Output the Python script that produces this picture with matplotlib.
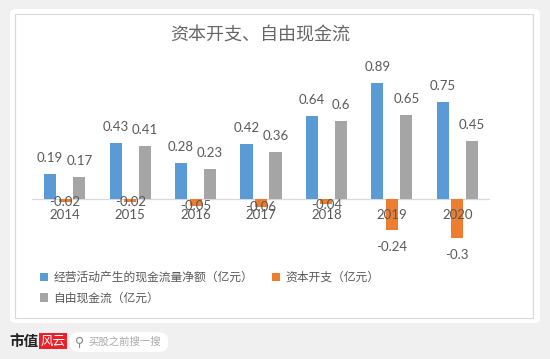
import numpy as np
import matplotlib.pyplot as plt
from matplotlib.patches import FancyBboxPatch, Rectangle

plt.rcParams['font.family'] = ['Lato', 'Noto Sans CJK SC', 'DejaVu Sans']

years = ['2014', '2015', '2016', '2017', '2018', '2019', '2020']
cash_flow = [0.19, 0.43, 0.28, 0.42, 0.64, 0.89, 0.75]
capex = [-0.02, -0.02, -0.05, -0.06, -0.04, -0.24, -0.3]
free_cf = [0.17, 0.41, 0.23, 0.36, 0.6, 0.65, 0.45]
series_names = ['经营活动产生的现金流量净额（亿元）', '资本开支（亿元）', '自由现金流（亿元）']
title = '资本开支、自由现金流'

BLUE = '#5b9bd5'
ORANGE = '#ed7d31'
GRAY = '#a5a5a5'
TXT = '#595959'

fig = plt.figure(figsize=(5.5, 3.59), dpi=100)
fig.patch.set_facecolor('#f0f0f0')

# white card + inner chart border
W, H = 550.0, 359.0
card = FancyBboxPatch((10 / W, 36 / H), 530 / W, 314 / H,
                      boxstyle='round,pad=0,rounding_size=0.012',
                      transform=fig.transFigure, fc='white', ec='none', zorder=-10)
fig.add_artist(card)
fig.add_artist(Rectangle((15 / W, 41 / H), 518 / W, 304 / H,
                         transform=fig.transFigure, fc='none',
                         ec='#d9d9d9', lw=0.8, zorder=-5))

ax = fig.add_axes([32 / W, (359 - 244.5) / H, 458 / W, 175.5 / H])
ax.set_facecolor('none')
x = np.arange(len(years))
off = 0.222
bw = 0.185
b1 = ax.bar(x - off, cash_flow, bw, color=BLUE)
b2 = ax.bar(x, capex, bw, color=ORANGE)
b3 = ax.bar(x + off, free_cf, bw, color=GRAY)
ax.set_xlim(-0.5, len(years) - 0.5)
ax.set_ylim(-0.35, 1.0)
ax.axhline(0, color='#d9d9d9', lw=0.9, zorder=0)
for s in ax.spines.values():
    s.set_visible(False)
ax.set_xticks([])
ax.set_yticks([])

lab = dict(fontsize=9.5, color=TXT, ha='center')
for i in range(len(years)):
    ax.annotate(f'{cash_flow[i]:g}', (x[i] - off, cash_flow[i]), xytext=(0, 11.5),
                textcoords='offset points', va='center', **lab)
    ax.annotate(f'{free_cf[i]:g}', (x[i] + off, free_cf[i]), xytext=(0, 11.5),
                textcoords='offset points', va='center', **lab)
    dy = -12 if capex[i] < -0.1 else -0.5
    ax.annotate(f'{capex[i]:g}', (x[i], capex[i]), xytext=(0, dy),
                textcoords='offset points', va='center', annotation_clip=False, **lab)
    ax.annotate(years[i], (x[i], 0), xytext=(0, -11.5), textcoords='offset points',
                va='center', annotation_clip=False, **lab)

fig.text(260 / W, 1 - 35 / H, title, ha='center', va='center', fontsize=13,
         color='#666666', family=['Noto Sans CJK SC'], fontweight='light')

leg = fig.legend([b1, b3, b2], [series_names[0], series_names[2], series_names[1]],
                 ncol=2, loc='upper left', bbox_to_anchor=(40 / W, 1 - 271 / H),
                 frameon=False, labelcolor=TXT,
                 handlelength=0.7, handleheight=0.7, handletextpad=0.45,
                 columnspacing=1.6, labelspacing=0.65, borderaxespad=0,
                 borderpad=0, prop={'family': ['Noto Sans CJK SC'], 'size': 8.5})

# footer
fig.text(9 / W, 1 - 341 / H, '市值', fontsize=10.5, fontweight='bold', color='#222222',
         va='center', ha='left', family=['Noto Sans CJK SC'])
fig.add_artist(Rectangle((39 / W, 1 - 349 / H), 28 / W, 16 / H,
                         transform=fig.transFigure, fc='#e8212a', ec='none'))
fig.text(53 / W, 1 - 341 / H, '风云', fontsize=9, color='white', style='italic',
         va='center', ha='center', family=['Noto Sans CJK SC'])
fig.add_artist(FancyBboxPatch((70 / W, 1 - 352 / H), 98 / W, 20 / H,
                              boxstyle='round,pad=0,rounding_size=0.02',
                              transform=fig.transFigure, fc='white', ec='none'))
fig.text(80 / W, 1 - 342 / H, '⚲', fontsize=9, color='#888888', va='center',
         ha='center', family=['DejaVu Sans'])
fig.text(88 / W, 1 - 342 / H, '买股之前搜一搜', fontsize=7.5, color='#aaaaaa',
         va='center', ha='left', family=['Noto Sans CJK SC'])

fig.savefig('out.png', dpi=100, facecolor=fig.get_facecolor())
